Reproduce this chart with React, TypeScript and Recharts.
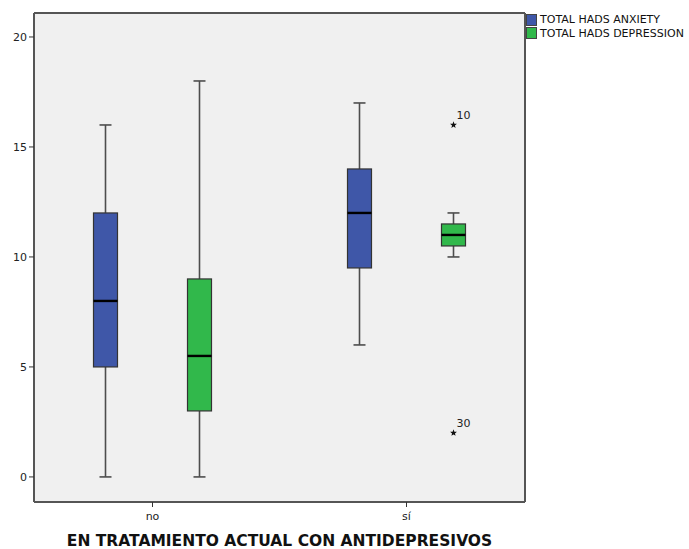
import React from 'react';
import { ComposedChart, Bar, XAxis, YAxis, CartesianGrid, Legend } from 'recharts';

// Groups on the category axis
const categories = ['no', 'sí'];

// Series names and fills
const seriesNames = ['TOTAL HADS ANXIETY', 'TOTAL HADS DEPRESSION'];
const seriesColors = ['#3f57a8', '#31b84b'];

// TOTAL HADS ANXIETY five-number summaries per group
const anxietyMin = [0, 6];
const anxietyQ1 = [5, 9.5];
const anxietyMedian = [8, 12];
const anxietyQ3 = [12, 14];
const anxietyMax = [16, 17];

// TOTAL HADS DEPRESSION five-number summaries per group
const depressionMin = [0, 10];
const depressionQ1 = [3, 10.5];
const depressionMedian = [5.5, 11];
const depressionQ3 = [9, 11.5];
const depressionMax = [18, 12];

// Extreme values (asterisks) with their case numbers
const anxietyExtremeValues: number[][] = [[], []];
const anxietyExtremeCases: number[][] = [[], []];
const depressionExtremeValues: number[][] = [[], [16, 2]];
const depressionExtremeCases: number[][] = [[], [10, 30]];

const yTicks = [0, 5, 10, 15, 20];
const yDomain = [-1.14, 21.09];

const FONT = '"DejaVu Sans", Verdana, sans-serif';

const stats = (
  min: number[], q1: number[], med: number[], q3: number[], max: number[],
  exV: number[][], exC: number[][], i: number
) => ({
  min: min[i],
  q1: q1[i],
  median: med[i],
  q3: q3[i],
  max: max[i],
  extremes: exV[i].map((v, j) => ({ value: v, caseId: exC[i][j] })),
});

const data = categories.map((cat, i) => ({
  cat,
  anxiety: [anxietyQ1[i], anxietyQ3[i]],
  depression: [depressionQ1[i], depressionQ3[i]],
  anxietyStats: stats(anxietyMin, anxietyQ1, anxietyMedian, anxietyQ3, anxietyMax, anxietyExtremeValues, anxietyExtremeCases, i),
  depressionStats: stats(depressionMin, depressionQ1, depressionMedian, depressionQ3, depressionMax, depressionExtremeValues, depressionExtremeCases, i),
}));

const starPath = (cx: number, cy: number, r: number) => {
  const pts: string[] = [];
  for (let k = 0; k < 10; k++) {
    const rad = k % 2 === 0 ? r : r * 0.42;
    const a = -Math.PI / 2 + (k * Math.PI) / 5;
    pts.push(`${(cx + rad * Math.cos(a)).toFixed(2)},${(cy + rad * Math.sin(a)).toFixed(2)}`);
  }
  return `M${pts.join('L')}Z`;
};

// The bar spans Q1..Q3; whiskers, median and extremes share its vertical scale.
const makeBoxShape = (statsKey: string, color: string) => (props: any) => {
  const { x, y, width, height, payload } = props;
  const s = payload[statsKey];
  if (!s) return null;
  const top = Math.min(y, y + height);
  const h = Math.abs(height);
  const k = h / (s.q3 - s.q1);
  const toY = (v: number) => top + (s.q3 - v) * k;
  const cx = x + width / 2;
  const cap = width / 4;
  return (
    <g>
      <line x1={cx} x2={cx} y1={toY(s.max)} y2={toY(s.q3)} stroke="#4d4d4d" strokeWidth={1.6} />
      <line x1={cx} x2={cx} y1={toY(s.q1)} y2={toY(s.min)} stroke="#4d4d4d" strokeWidth={1.6} />
      <line x1={cx - cap} x2={cx + cap} y1={toY(s.max)} y2={toY(s.max)} stroke="#4d4d4d" strokeWidth={1.6} />
      <line x1={cx - cap} x2={cx + cap} y1={toY(s.min)} y2={toY(s.min)} stroke="#4d4d4d" strokeWidth={1.6} />
      <rect x={x} y={top} width={width} height={h} fill={color} stroke="#333" strokeWidth={1.2} />
      <line x1={x} x2={x + width} y1={toY(s.median)} y2={toY(s.median)} stroke="#000" strokeWidth={2.4} />
      {s.extremes.map((e: any) => (
        <g key={e.caseId}>
          <path d={starPath(cx, toY(e.value), 3.6)} fill="#111" />
          <text x={cx + 3} y={toY(e.value) - 6} fontSize={11} fontFamily={FONT} fill="#222">
            {e.caseId}
          </text>
        </g>
      ))}
    </g>
  );
};

const renderLegend = () => (
  <div style={{ fontFamily: FONT, fontSize: 11, color: '#111', lineHeight: '13px' }}>
    {seriesNames.map((n, i) => (
      <div key={n} style={{ display: 'flex', alignItems: 'center', height: 13.5 }}>
        <span
          style={{
            display: 'inline-block',
            width: 11,
            height: 12,
            background: seriesColors[i],
            border: '1px solid #444',
            boxSizing: 'border-box',
            marginRight: 3,
          }}
        />
        <span style={{ whiteSpace: 'nowrap' }}>{n}</span>
      </div>
    ))}
  </div>
);

// Frame lines along the top and right edges of the plot area
const topEdge = ({ offset }: any) => [offset.top];
const rightEdge = ({ offset }: any) => [offset.left + offset.width];

export default function App() {
  return (
    <div style={{ position: 'absolute', left: 0, top: 0, width: 689, height: 549, background: '#fff' }}>
      <ComposedChart
        width={689}
        height={549}
        data={data}
        margin={{ top: 13, right: 164, bottom: 0, left: 0 }}
        barSize={24}
        barGap={70}
        style={{ fontFamily: FONT }}
      >
        <CartesianGrid
          fill="#f0f0f0"
          stroke="#555"
          strokeWidth={2}
          horizontalCoordinatesGenerator={topEdge}
          verticalCoordinatesGenerator={rightEdge}
        />
        <XAxis
          dataKey="cat"
          padding={{ left: -8.5, right: -8.5 }}
          height={47}
          tickSize={5}
          tickMargin={5}
          axisLine={{ stroke: '#555', strokeWidth: 2 }}
          tickLine={{ stroke: '#333' }}
          tick={{ fontSize: 11, fill: '#222', fontFamily: FONT }}
          label={{
            value: 'EN TRATAMIENTO ACTUAL CON ANTIDEPRESIVOS',
            position: 'insideBottom',
            offset: 3,
            style: { fontSize: 15.5, fontWeight: 'bold', fill: '#111', fontFamily: FONT },
          }}
        />
        <YAxis
          type="number"
          domain={yDomain}
          ticks={yTicks}
          width={34}
          tickSize={5}
          axisLine={{ stroke: '#555', strokeWidth: 2 }}
          tickLine={{ stroke: '#333' }}
          tick={{ fontSize: 11, fill: '#222', fontFamily: FONT }}
        />
        <Legend
          layout="vertical"
          align="center"
          verticalAlign="middle"
          content={renderLegend}
          wrapperStyle={{ left: 526, top: 13, width: 163 }}
        />
        <Bar
          dataKey="anxiety"
          name={seriesNames[0]}
          fill={seriesColors[0]}
          isAnimationActive={false}
          shape={makeBoxShape('anxietyStats', seriesColors[0])}
        />
        <Bar
          dataKey="depression"
          name={seriesNames[1]}
          fill={seriesColors[1]}
          isAnimationActive={false}
          shape={makeBoxShape('depressionStats', seriesColors[1])}
        />
      </ComposedChart>
    </div>
  );
}
